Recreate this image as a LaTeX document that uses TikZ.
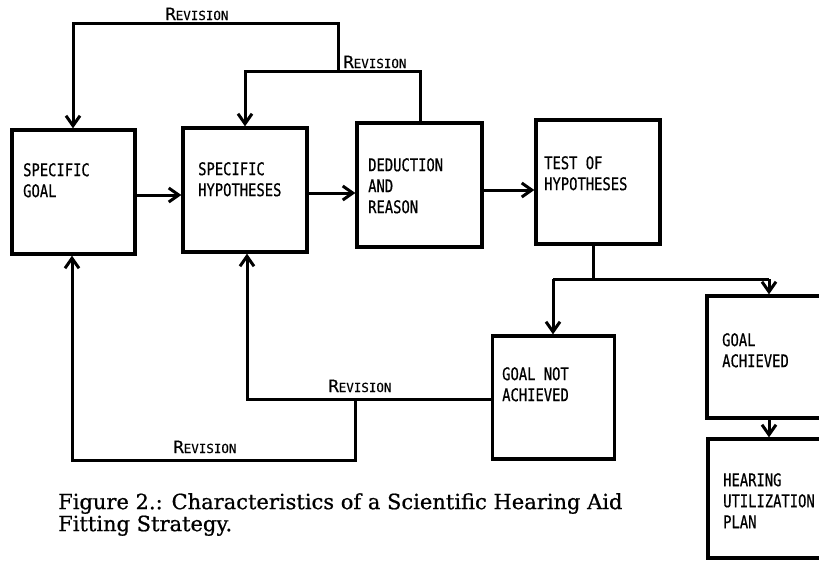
\documentclass[tikz,border=0pt]{standalone}
\usepackage{fontspec}
\usetikzlibrary{arrows.meta}
\newfontfamily\boxfont[FakeStretch=0.79,FakeBold=0.6]{DejaVu Sans Mono}
\newfontfamily\revfont[FakeBold=0.5]{DejaVu Sans Mono}
\newfontfamily\capfont[FakeBold=0.8]{DejaVu Serif}
\newcommand{\revtxt}{{\revfont\fontsize{17}{17}\selectfont R\fontsize{12.5}{13}\selectfont EVISION}}
\begin{document}
\begin{tikzpicture}[x=1pt,y=-1pt,
  box/.style={draw, line width=3.3pt, inner sep=0pt, rectangle},
  lbl/.style={anchor=north west, align=left, inner sep=0pt,
    font=\boxfont\fontsize{17.5}{21}\selectfont},
  conn/.style={line width=3pt, line join=miter},
  arr/.style={conn, -{Straight Barb[length=10pt,width=14pt]}},
  revlbl/.style={anchor=base, inner sep=0pt}]
\useasboundingbox (0,0) rectangle (819,560);
\clip (0,0) rectangle (819,560);
% boxes
\node[box, minimum width=123pt, minimum height=124pt] (goal) at (73.5,192) {};
\node[box, minimum width=124pt, minimum height=124pt] (hyp) at (245,190) {};
\node[box, minimum width=125pt, minimum height=124pt] (ded) at (419.5,185) {};
\node[box, minimum width=124pt, minimum height=124pt] (test) at (598,182) {};
\node[box, minimum width=122pt, minimum height=123pt] (gna) at (553.5,397.5) {};
\node[box, minimum width=123pt, minimum height=122pt] (ga) at (768.5,357) {};
\node[box, minimum width=122pt, minimum height=119pt] (hup) at (769,498.5) {};
% texts
\node[lbl] (tgoal) at (23,163) {SPECIFIC\\GOAL};
\node[lbl] (thyp) at (198,162) {SPECIFIC\\HYPOTHESES};
\node[lbl] (tded) at (368,158) {DEDUCTION\\AND\\REASON};
\node[lbl] (ttest) at (544,156) {TEST OF\\HYPOTHESES};
\node[lbl] (tgna) at (502,367) {GOAL NOT\\ACHIEVED};
\node[lbl] (tga) at (722,333) {GOAL\\ACHIEVED};
\node[lbl] (thup) at (723,473) {HEARING\\UTILIZATION\\PLAN};
% forward arrows
\draw[arr] ([yshift=-3pt]goal.east) -- ([yshift=-3pt]goal.east -| hyp.west);
\draw[arr] ([yshift=-3pt]hyp.east) -- ([yshift=-3pt]hyp.east -| ded.west);
\draw[arr] ([yshift=-5pt]ded.east) -- ([yshift=-5pt]ded.east -| test.west);
% test split
\coordinate (split) at (593,279);
\coordinate (bl) at (553,279);
\coordinate (br) at (769,279);
\draw[conn] (test.south -| split) -- (split);
\draw[conn] (bl) -- (br);
\draw[arr] (bl) -- (bl |- gna.north);
\draw[arr] (br) -- (br |- ga.north);
\draw[arr] (ga.south -| br) -- (hup.north -| br);
% top revisions
\coordinate (t1) at (420,71);
\coordinate (t2) at (245,71);
\coordinate (t3) at (338,71);
\coordinate (t4) at (338,23);
\coordinate (t5) at (73,23);
\draw[arr] (ded.north -| t1) -- (t1) -- (t2) -- (t2 |- hyp.north);
\draw[arr] (t3) -- (t4) -- (t5) -- (t5 |- goal.north);
% bottom revisions
\coordinate (b1) at (247,399);
\coordinate (b2) at (355,399);
\coordinate (b3) at (355,460);
\coordinate (b4) at (72,460);
\draw[arr] (gna.west |- b1) -- (b1) -- (b1 |- hyp.south);
\draw[arr] (b2) -- (b3) -- (b4) -- (b4 |- goal.south);
% revision labels
\node[revlbl] (r1) at (197,20) {\revtxt};
\node[revlbl] (r2) at (375,68) {\revtxt};
\node[revlbl] (r3) at (360,392) {\revtxt};
\node[revlbl] (r4) at (205,453) {\revtxt};
% caption
\node[anchor=north west, align=left, inner sep=0pt,
  font=\capfont\fontsize{21}{22}\selectfont] (cap) at (58,493)
  {Figure 2.: Characteristics of a Scientific Hearing Aid\\Fitting Strategy.};
\end{tikzpicture}
\end{document}
